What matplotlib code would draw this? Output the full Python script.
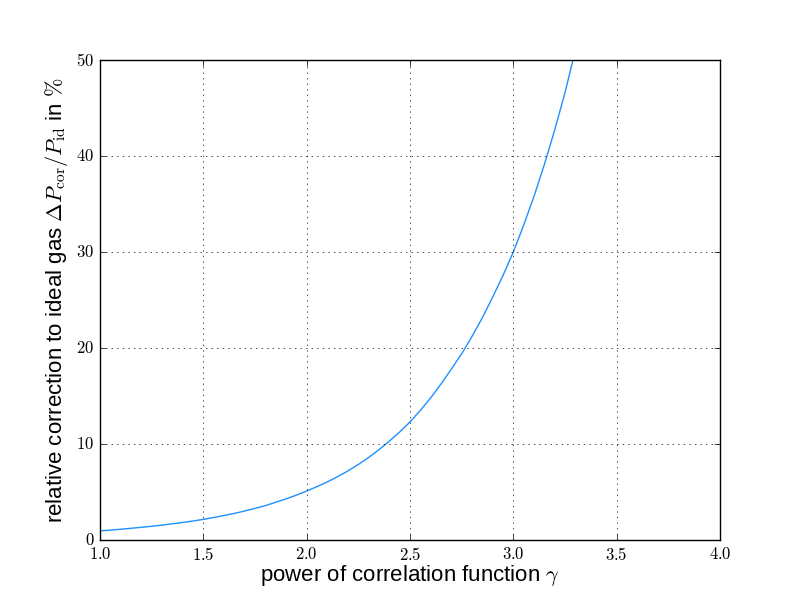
import matplotlib
matplotlib.use("Agg")
import matplotlib.pyplot as plt
from matplotlib.ticker import FuncFormatter

plt.style.use("classic")
plt.rcParams["mathtext.fontset"] = "cm"
plt.rcParams["font.family"] = ["Liberation Sans", "DejaVu Sans"]

gamma = [1.0, 1.05, 1.1, 1.15, 1.2, 1.25, 1.3, 1.35, 1.4, 1.45, 1.5, 1.55,
         1.6, 1.65, 1.7, 1.75, 1.8, 1.85, 1.9, 1.95, 2.0, 2.05, 2.1, 2.15,
         2.2, 2.25, 2.3, 2.35, 2.4, 2.45, 2.5, 2.55, 2.6, 2.65, 2.7, 2.75,
         2.8, 2.85, 2.9, 2.95, 3.0, 3.05, 3.1, 3.15, 3.2, 3.25, 3.3]
correction = [0.95, 1.03, 1.12, 1.22, 1.32, 1.43, 1.55, 1.69, 1.83, 1.98,
              2.15, 2.34, 2.55, 2.77, 3.02, 3.29, 3.58, 3.93, 4.28, 4.67,
              5.1, 5.56, 6.05, 6.6, 7.2, 7.87, 8.6, 9.41, 10.3, 11.25, 12.3,
              13.5, 14.8, 16.25, 17.8, 19.4, 21.2, 23.15, 25.3, 27.55, 30.0,
              32.8, 35.8, 39.1, 42.7, 46.6, 51.0]

fig = plt.figure(figsize=(8, 6), dpi=100, facecolor="white")
ax = fig.add_subplot(111)
ax.plot(gamma, correction, color="#1e90ff", lw=1.0)
ax.set_xlim(1.0, 4.0)
ax.set_ylim(0, 50)
ax.set_xticks([1.0, 1.5, 2.0, 2.5, 3.0, 3.5, 4.0])
ax.set_yticks([0, 10, 20, 30, 40, 50])
ax.xaxis.set_major_formatter(FuncFormatter(lambda v, p: r"$%.1f$" % v))
ax.yaxis.set_major_formatter(FuncFormatter(lambda v, p: r"$%d$" % v))
ax.grid(True, color="black", linestyle=":", linewidth=0.5)
ax.set_xlabel(r"power of correlation function $\gamma$", fontsize=16, labelpad=0)
ax.set_ylabel(r"relative correction to ideal gas $\Delta P_\mathrm{cor}/P_\mathrm{id}$ in $\%$", fontsize=16)
fig.savefig("out.png", dpi=100, facecolor="white")
